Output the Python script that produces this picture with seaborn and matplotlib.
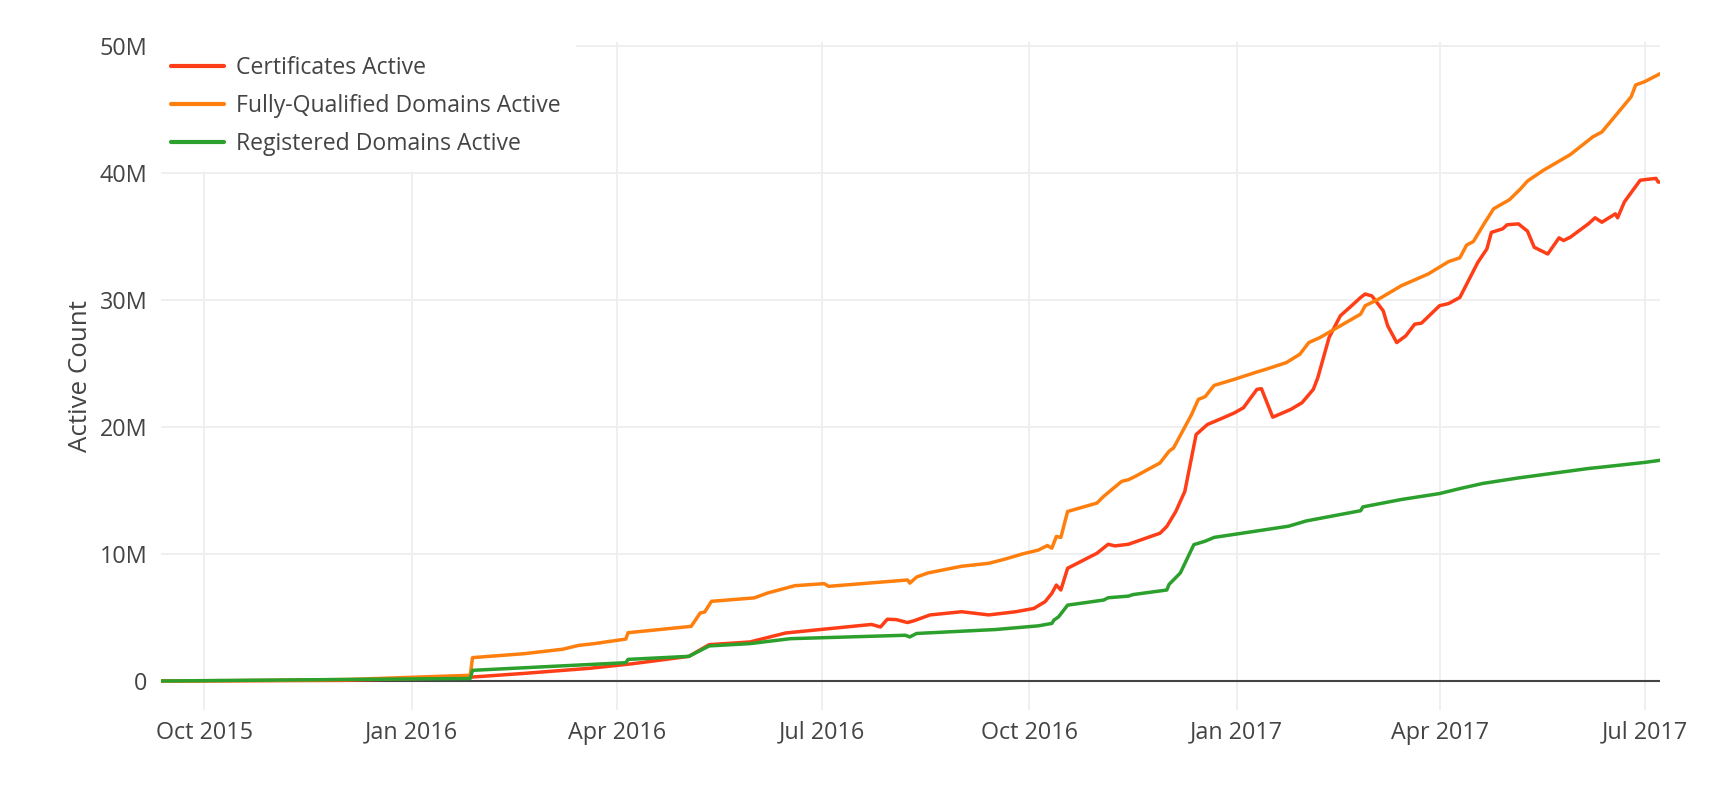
import matplotlib
matplotlib.use("Agg")
import matplotlib.pyplot as plt
import matplotlib.dates as mdates
from matplotlib.ticker import FuncFormatter, MultipleLocator
import pandas as pd
import seaborn as sns

# Values, in millions
cert_dates = ["2015-09-12", "2015-12-01", "2016-01-27", "2016-02-20", "2016-03-20", "2016-04-08",
              "2016-05-03", "2016-05-12", "2016-05-30", "2016-06-15", "2016-07-23", "2016-07-27",
              "2016-07-30", "2016-08-03", "2016-08-08", "2016-08-11", "2016-08-18", "2016-09-01",
              "2016-09-13", "2016-09-25", "2016-10-03", "2016-10-08", "2016-10-11", "2016-10-13",
              "2016-10-15", "2016-10-18", "2016-10-31", "2016-11-05", "2016-11-08", "2016-11-14",
              "2016-11-28", "2016-12-01", "2016-12-05", "2016-12-09", "2016-12-14", "2016-12-19",
              "2016-12-26", "2016-12-31", "2017-01-04", "2017-01-10", "2017-01-12", "2017-01-17",
              "2017-01-25", "2017-01-30", "2017-02-04", "2017-02-06", "2017-02-11", "2017-02-16",
              "2017-02-21", "2017-02-25", "2017-02-27", "2017-03-02", "2017-03-07", "2017-03-09",
              "2017-03-13", "2017-03-17", "2017-03-21", "2017-03-24", "2017-04-01", "2017-04-05",
              "2017-04-10", "2017-04-18", "2017-04-22", "2017-04-24", "2017-04-29", "2017-05-01",
              "2017-05-06", "2017-05-10", "2017-05-13", "2017-05-19", "2017-05-24", "2017-05-26",
              "2017-05-29", "2017-06-06", "2017-06-09", "2017-06-12", "2017-06-18", "2017-06-19",
              "2017-06-22", "2017-06-29", "2017-07-01", "2017-07-06", "2017-07-07", "2017-07-08"]
cert_vals = [0.0, 0.05, 0.3, 0.6, 1.0, 1.36,
             1.94, 2.86, 3.07, 3.78, 4.45, 4.25,
             4.86, 4.83, 4.6, 4.75, 5.2, 5.45,
             5.2, 5.45, 5.71, 6.24, 6.9, 7.55,
             7.16, 8.87, 10.05, 10.76, 10.63, 10.76,
             11.63, 12.16, 13.34, 14.92, 19.39, 20.18,
             20.71, 21.1, 21.5, 22.95, 23.0, 20.76,
             21.37, 21.9, 22.95, 23.87, 27.03, 28.74,
             29.53, 30.18, 30.45, 30.3, 29.13, 27.95,
             26.63, 27.16, 28.08, 28.16, 29.53, 29.7,
             30.18, 32.95, 34.0, 35.3, 35.58, 35.9,
             35.97, 35.4, 34.13, 33.6, 34.87, 34.66,
             34.92, 35.97, 36.45, 36.1, 36.76, 36.45,
             37.7, 39.4, 39.45, 39.55, 39.26, 39.26]

fqdn_dates = ["2015-09-12", "2015-11-01", "2015-12-04", "2016-01-27", "2016-01-28", "2016-02-20",
              "2016-03-08", "2016-03-15", "2016-03-22", "2016-04-05", "2016-04-06", "2016-05-04",
              "2016-05-08", "2016-05-10", "2016-05-13", "2016-06-01", "2016-06-07", "2016-06-19",
              "2016-07-02", "2016-07-04", "2016-08-08", "2016-08-09", "2016-08-12", "2016-08-17",
              "2016-09-01", "2016-09-13", "2016-09-20", "2016-09-28", "2016-10-05", "2016-10-09",
              "2016-10-11", "2016-10-13", "2016-10-15", "2016-10-18", "2016-10-31", "2016-11-03",
              "2016-11-11", "2016-11-14", "2016-11-17", "2016-11-28", "2016-12-02", "2016-12-04",
              "2016-12-12", "2016-12-15", "2016-12-18", "2016-12-22", "2016-12-31", "2017-01-09",
              "2017-01-14", "2017-01-23", "2017-01-29", "2017-02-02", "2017-02-07", "2017-02-16",
              "2017-02-25", "2017-02-27", "2017-03-05", "2017-03-15", "2017-03-27", "2017-04-05",
              "2017-04-10", "2017-04-13", "2017-04-16", "2017-04-21", "2017-04-25", "2017-05-02",
              "2017-05-07", "2017-05-10", "2017-05-17", "2017-05-29", "2017-06-08", "2017-06-12",
              "2017-06-17", "2017-06-25", "2017-06-27", "2017-07-01", "2017-07-08"]
fqdn_vals = [0.0, 0.05, 0.12, 0.45, 1.84, 2.15,
             2.5, 2.8, 2.94, 3.3, 3.8, 4.3,
             5.35, 5.43, 6.27, 6.54, 6.93, 7.5,
             7.66, 7.45, 7.95, 7.7, 8.18, 8.5,
             9.03, 9.26, 9.58, 10.0, 10.3, 10.66,
             10.45, 11.37, 11.3, 13.34, 14.0, 14.53,
             15.71, 15.84, 16.1, 17.16, 18.08, 18.34,
             20.97, 22.16, 22.37, 23.26, 23.74, 24.26,
             24.53, 25.05, 25.71, 26.63, 27.03, 27.95,
             28.87, 29.53, 30.05, 31.1, 32.03, 33.0,
             33.3, 34.3, 34.58, 36.05, 37.16, 37.87,
             38.74, 39.34, 40.18, 41.42, 42.82, 43.2,
             44.26, 45.97, 46.9, 47.16, 47.8]

reg_dates = ["2015-09-12", "2016-01-27", "2016-01-28", "2016-04-05", "2016-04-06", "2016-05-03",
             "2016-05-12", "2016-05-30", "2016-06-17", "2016-08-07", "2016-08-09", "2016-08-12",
             "2016-09-16", "2016-10-05", "2016-10-11", "2016-10-12", "2016-10-14", "2016-10-18",
             "2016-11-03", "2016-11-05", "2016-11-14", "2016-11-16", "2016-12-01", "2016-12-02",
             "2016-12-07", "2016-12-13", "2016-12-18", "2016-12-22", "2017-01-24", "2017-02-01",
             "2017-02-25", "2017-02-26", "2017-03-15", "2017-04-01", "2017-04-10", "2017-04-20",
             "2017-05-06", "2017-06-06", "2017-06-13", "2017-07-01", "2017-07-08"]
reg_vals = [0.0, 0.2, 0.84, 1.44, 1.7, 1.94,
            2.76, 2.94, 3.33, 3.6, 3.47, 3.74,
            4.05, 4.34, 4.53, 4.8, 5.05, 5.97,
            6.37, 6.55, 6.68, 6.8, 7.16, 7.6,
            8.5, 10.73, 11.0, 11.3, 12.18, 12.6,
            13.4, 13.7, 14.28, 14.75, 15.14, 15.54,
            15.98, 16.72, 16.85, 17.2, 17.37]

series_names = ["Certificates Active", "Fully-Qualified Domains Active", "Registered Domains Active"]
series_colors = ["#ff3d17", "#ff7f0e", "#2ca02c"]

frames = []
for name, d, v in zip(series_names, [cert_dates, fqdn_dates, reg_dates], [cert_vals, fqdn_vals, reg_vals]):
    frames.append(pd.DataFrame({"date": pd.to_datetime(d), "value": v, "series": name}))
df = pd.concat(frames, ignore_index=True)

sns.set_style("white")
plt.rcParams["font.family"] = ["Open Sans", "DejaVu Sans"]
txt = "#444444"

fig = plt.figure(figsize=(17.23, 7.88), dpi=100)
ax = fig.add_axes([0.0937, 0.0995, 0.87, 0.8475])

ax.axhline(0, color="#444444", lw=1.5, zorder=1)
sns.lineplot(data=df, x="date", y="value", hue="series", hue_order=series_names,
             palette=series_colors, estimator=None, linewidth=2.5, ax=ax, zorder=3)

ax.set_xlim(pd.Timestamp("2015-09-12"), pd.Timestamp("2017-07-08"))
ax.set_ylim(-2.25, 50.3)
ax.yaxis.set_major_locator(MultipleLocator(10))
ax.yaxis.set_major_formatter(FuncFormatter(lambda v, p: "0" if v == 0 else f"{int(v)}M"))
ax.xaxis.set_major_locator(mdates.MonthLocator(bymonth=[1, 4, 7, 10]))
ax.xaxis.set_major_formatter(mdates.DateFormatter("%b %Y"))

ax.grid(True, color="#eeeeee", lw=1.3, zorder=0)
ax.set_axisbelow(True)
for s in ax.spines.values():
    s.set_visible(False)
ax.tick_params(axis="both", length=0, labelsize=16.8, labelcolor=txt)
ax.tick_params(axis="y", pad=10)
ax.tick_params(axis="x", pad=8)
ax.set_xlabel("")
ax.set_ylabel("Active Count", fontsize=18.6, color=txt, labelpad=5)

leg = ax.legend(loc="upper left", bbox_to_anchor=(-0.003, 1.0), frameon=True, fontsize=16.6,
                handlelength=2.3, handletextpad=0.55, labelspacing=0.62, borderpad=0.6,
                borderaxespad=0.0)
leg.get_frame().set_facecolor("white")
leg.get_frame().set_edgecolor("white")
leg.get_frame().set_alpha(1.0)
leg.get_frame().set_boxstyle("square", pad=0.0)
for t in leg.get_texts():
    t.set_color(txt)
for h in leg.legend_handles:
    h.set_linewidth(3)

fig.savefig("out.png", dpi=100, facecolor="white")
